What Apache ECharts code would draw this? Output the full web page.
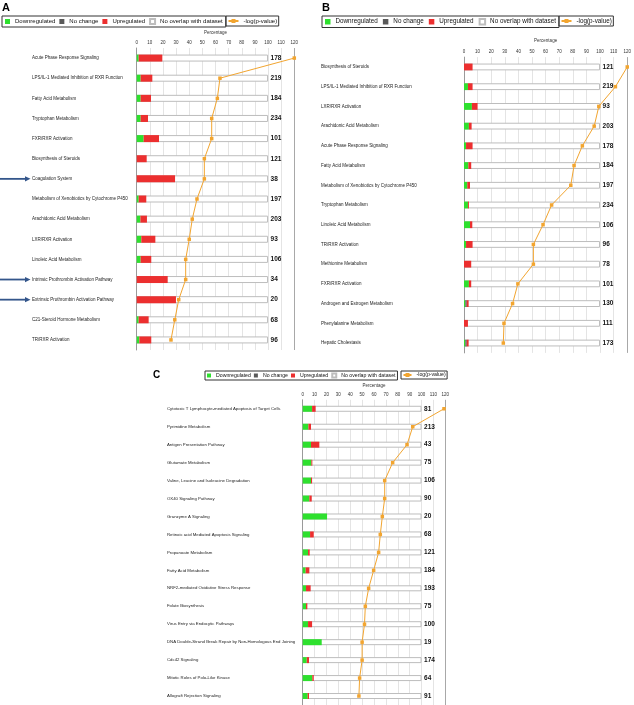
<!DOCTYPE html>
<html><head><meta charset="utf-8">
<script src="https://cdn.jsdelivr.net/npm/echarts@6/dist/echarts.min.js"></script>
<style>html,body{margin:0;padding:0;background:#fff}#c{width:634px;height:705px}</style>
</head><body><div id="c"></div>
<script>
// ---------- Panel A ----------
const catsA = ['Acute Phase Response Signaling','LPS/IL-1 Mediated Inhibition of RXR Function','Fatty Acid Metabolism','Tryptophan Metabolism','FXR/RXR Activation','Biosynthesis of Steroids','Coagulation System','Metabolism of Xenobiotics by Cytochrome P450','Arachidonic Acid Metabolism','LXR/RXR Activation','Linoleic Acid Metabolism','Intrinsic Prothrombin Activation Pathway','Extrinsic Prothrombin Activation Pathway','C21-Steroid Hormone Metabolism','TR/RXR Activation'];
const downA  = [1.5, 3, 3, 3, 5.3, 0, 0, 1.5, 2.8, 3.5, 3, 0, 0, 1.5, 2];
const nochA  = [0, 0, 0, 0, 0, 0, 0, 0, 0, 0, 0, 0, 0, 0, 0];
const upA    = [18, 8.9, 7.9, 5.6, 11.7, 7.6, 29.2, 5.8, 5, 10.7, 8.1, 23.6, 29.9, 7.6, 9.1];
const countA = [178, 219, 184, 234, 101, 121, 38, 197, 203, 93, 106, 34, 20, 68, 96];
const logpA  = [120, 63.4, 61.4, 57.1, 57.1, 51.5, 51.5, 45.9, 42.3, 40, 37.3, 37.3, 32, 29, 26.1];
const arrowA = ['Coagulation System','Intrinsic Prothrombin Activation Pathway','Extrinsic Prothrombin Activation Pathway'];

// ---------- Panel B ----------
const catsB = ['Biosynthesis of Steroids','LPS/IL-1 Mediated Inhibition of RXR Function','LXR/RXR Activation','Arachidonic Acid Metabolism','Acute Phase Response Signaling','Fatty Acid Metabolism','Metabolism of Xenobiotics by Cytochrome P450','Tryptophan Metabolism','Linoleic Acid Metabolism','TR/RXR Activation','Methionine Metabolism','FXR/RXR Activation','Androgen and Estrogen Metabolism','Phenylalanine Metabolism','Hepatic Cholestasis'];
const downB  = [0, 2.9, 5.8, 3.6, 1.5, 3.2, 2.4, 2.9, 4.4, 1.5, 0, 3.6, 1, 0, 1];
const nochB  = [0, 0, 0, 0, 0, 0, 0, 0, 0, 0, 0, 0, 1, 0, 1];
const upB    = [6.3, 3.4, 4.2, 2, 4.8, 2.1, 2, 0.7, 1.7, 4.8, 5.3, 1.7, 1.4, 2.9, 1.4];
const countB = [121, 219, 93, 203, 178, 184, 197, 234, 106, 96, 78, 101, 130, 111, 173];
const logpB  = [120, 111.3, 99.1, 95.7, 87, 80.9, 78.5, 64.4, 58.1, 51, 51, 39.6, 35.7, 29.4, 28.9];

// ---------- Panel C ----------
const catsC = ['Cytotoxic T Lymphocyte-mediated Apoptosis of Target Cells','Pyrimidine Metabolism','Antigen Presentation Pathway','Glutamate Metabolism','Valine, Leucine and Isoleucine Degradation','OX40 Signaling Pathway','Granzyme A Signaling','Retinoic acid Mediated Apoptosis Signaling','Propanoate Metabolism','Fatty Acid Metabolism','NRF2-mediated Oxidative Stress Response','Folate Biosynthesis','Virus Entry via Endocytic Pathways','DNA Double-Strand Break Repair by Non-Homologous End Joining','Cdc42 Signaling','Mitotic Roles of Polo-Like Kinase','Allograft Rejection Signaling'];
const downC  = [7.9, 4.8, 7, 7.3, 7, 5.6, 20.5, 6.2, 4.5, 2.5, 2.8, 2.8, 4.5, 16, 3.4, 8.1, 4.2];
const nochC  = [0, 0, 0, 0, 0, 0, 0, 0, 0, 0, 0, 0, 0, 0, 0, 0, 0];
const upC    = [3, 2.2, 7, 0.8, 0.9, 2, 0, 3.1, 1.4, 3.1, 3.9, 1.1, 3.4, 0, 1.9, 1.2, 1.1];
const countC = [81, 213, 43, 75, 106, 90, 20, 68, 121, 184, 193, 75, 100, 19, 174, 64, 91];
const logpC  = [118.9, 92.6, 87.8, 75.7, 69, 69, 67, 65.3, 63.9, 59.7, 55.5, 52.7, 52, 50, 50, 47.9, 47.3];

const tickMax = 120, tickStep = 10, fullBar = 100;

const FONT = '"Liberation Sans", Arial, sans-serif';
const GREEN = '#2ee02e', GREY = '#5a5a5a', RED = '#ec2f2f', ORANGE = '#f2a530', NAVY = '#34568b';

const panels = [
  {cats:catsA, down:downA, noch:nochA, up:upA, count:countA, logp:logpA,
   grid:{left:136.7, top:48, width:157.6, height:302}, labelX:32, barW:7, nameGap:13, catFont:4.5},
  {cats:catsB, down:downB, noch:nochB, up:upB, count:countB, logp:logpB,
   grid:{left:464, top:57.1, width:164.7, height:295.8}, labelX:321, barW:6.8, nameGap:14, catFont:4.5},
  {cats:catsC, down:downC, noch:nochC, up:upC, count:countC, logp:logpC,
   grid:{left:302.7, top:399.8, width:142.6, height:311.2}, labelX:167, barW:6, nameGap:12, catFont:4.3}
];

const splitColors = [];
for (let v = 0; v <= tickMax; v += tickStep) splitColors.push(v === tickMax ? '#a8a8a8' : '#e4e4e4');

const grids = [], xAxes = [], yAxes = [], series = [];
panels.forEach((p, i) => {
  grids.push(Object.assign({containLabel:false}, p.grid));
  xAxes.push({type:'value', gridIndex:i, position:'top', min:0, max:tickMax, interval:tickStep,
    name:'Percentage', nameLocation:'middle', nameGap:p.nameGap,
    nameTextStyle:{fontSize:4.5, color:'#333', fontFamily:FONT},
    axisLine:{show:false}, axisTick:{show:false},
    axisLabel:{fontSize:4.5, color:'#333', margin:3, fontFamily:FONT},
    splitLine:{show:true, lineStyle:{color:splitColors, width:1}}});
  yAxes.push({type:'category', gridIndex:i, data:p.cats, inverse:true,
    axisLine:{show:true, lineStyle:{color:'#9a9a9a'}}, axisTick:{show:false},
    axisLabel:{fontSize:p.catFont, color:'#222', align:'left', margin:p.grid.left - p.labelX, fontFamily:FONT, interval:0},
    splitLine:{show:false}});
  series.push({name:'No overlap with dataset', type:'bar', xAxisIndex:i, yAxisIndex:i,
    data:p.cats.map(() => fullBar), barWidth:p.barW, barGap:'-100%', z:1, silent:true,
    itemStyle:{color:'#fff', borderColor:'#bdbdbd', borderWidth:1},
    label:{show:true, position:'right', distance:2.5, fontSize:6.5, fontWeight:'bold', color:'#111', fontFamily:FONT,
      formatter:(d) => String(p.count[d.dataIndex])}});
  series.push({name:'Downregulated', type:'bar', stack:'s'+i, xAxisIndex:i, yAxisIndex:i, data:p.down,
    barWidth:p.barW, barGap:'-100%', z:2, itemStyle:{color:GREEN}});
  series.push({name:'No change', type:'bar', stack:'s'+i, xAxisIndex:i, yAxisIndex:i, data:p.noch,
    barWidth:p.barW, barGap:'-100%', z:2, itemStyle:{color:GREY}});
  series.push({name:'Upregulated', type:'bar', stack:'s'+i, xAxisIndex:i, yAxisIndex:i, data:p.up,
    barWidth:p.barW, barGap:'-100%', z:2, itemStyle:{color:RED}});
  series.push({name:'-log(p-value)', type:'line', xAxisIndex:i, yAxisIndex:i,
    data:p.logp.map((v, k) => [v, p.cats[k]]), symbol:'rect', symbolSize:3.5, clip:false, z:5,
    lineStyle:{color:ORANGE, width:1}, itemStyle:{color:ORANGE}});
});

// arrows in panel A
series.push({type:'custom', xAxisIndex:0, yAxisIndex:0, clip:false, silent:true, z:6,
  data:arrowA.map(n => [0, n]),
  renderItem:(params, api) => {
    const y = api.coord([0, api.value(1)])[1];
    return {type:'group', children:[
      {type:'rect', shape:{x:0, y:y-0.9, width:26, height:1.8}, style:{fill:NAVY}},
      {type:'polygon', shape:{points:[[25,y-2.6],[30.5,y],[25,y+2.6]]}, style:{fill:NAVY}}
    ]};
  }});

const mainLegend = (left, top, fs, iw, gap, pad) => ({
  data:['Downregulated','No change','Upregulated','No overlap with dataset'],
  left, top, orient:'horizontal', icon:'rect', itemWidth:iw, itemHeight:iw, itemGap:gap,
  padding:pad, borderColor:'#333', borderWidth:1, selectedMode:false,
  textStyle:{fontSize:fs, color:'#111', fontFamily:FONT}
});
const lineLegend = (left, top, fs, iw, pad) => ({
  data:['-log(p-value)'], left, top, itemWidth:iw, itemHeight:5, padding:pad,
  borderColor:'#333', borderWidth:1, selectedMode:false,
  textStyle:{fontSize:fs, color:'#111', fontFamily:FONT}
});

const titleStyle = (fs) => ({fontSize:fs, fontWeight:'bold', color:'#000', fontFamily:FONT});
const option = {
  animation:false,
  backgroundColor:'#fff',
  title:[
    {text:'A', left:2, top:2, padding:0, textStyle:titleStyle(11)},
    {text:'B', left:322, top:2, padding:0, textStyle:titleStyle(11)},
    {text:'C', left:153, top:370.5, padding:0, textStyle:titleStyle(10)}
  ],
  legend:[
    mainLegend(2, 16, 6, 5, 4, [2,3]),
    lineLegend(226, 16, 6, 10, [2,1.5]),
    mainLegend(322, 16, 6.3, 5.5, 5, [2,3]),
    lineLegend(559, 16, 6.3, 10, [2,1.5]),
    mainLegend(205, 371, 5.2, 4, 3, [1.5,2]),
    lineLegend(401, 371, 5.2, 8, [1.5,1.5])
  ],
  grid:grids, xAxis:xAxes, yAxis:yAxes, series
};
const chart = echarts.init(document.getElementById('c'), null, {renderer:'canvas'});
chart.setOption(option);
</script></body></html>
